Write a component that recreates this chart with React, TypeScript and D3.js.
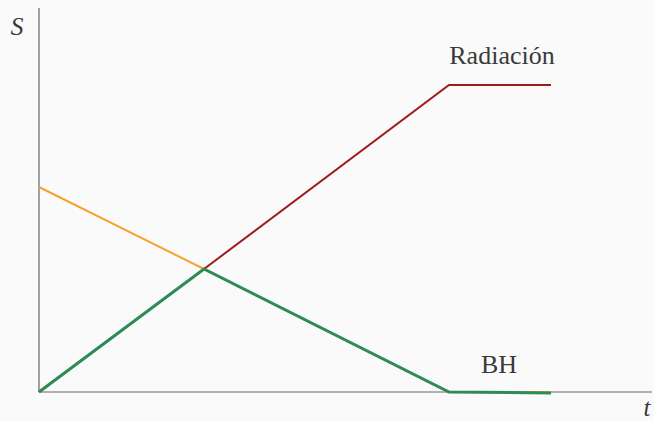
import React from "react";
import * as d3 from "d3";

const W = 654;
const H = 421;

// time points (arbitrary units) and entropy values
const tPoints = [0, 1.65, 4.1, 5.12];
const radiacion = [0, 1.23, 3.07, 3.07];
const bhOrange = [2.05, 1.23, 0, 0];
const total = [0, 1.23, 0, -0.01];

const labels = { y: "S", x: "t", rad: "Radiación", bh: "BH" };

export default function App() {
  const x = d3.scaleLinear().domain([0, 6.13]).range([39, 652]);
  const y = d3.scaleLinear().domain([0, 3.84]).range([392, 8]);
  const line = d3
    .line<number>()
    .x((_, i) => x(tPoints[i]))
    .y((d) => y(d));

  const font = "'Liberation Serif', 'DejaVu Serif', serif";
  return (
    <div style={{ position: "fixed", left: 0, top: 0 }}>
      <svg width={W} height={H} style={{ display: "block", background: "#fafafa" }}>
        <rect width={W} height={H} fill="#fafafa" />
        <line x1={x(0)} x2={x(0)} y1={y(3.84)} y2={y(0)} stroke="#666" strokeWidth={1.2} />
        <line x1={x(0)} x2={x(6.13)} y1={y(0)} y2={y(0)} stroke="#666" strokeWidth={1.2} />
        <path d={line(bhOrange) || ""} fill="none" stroke="#f7a233" strokeWidth={2} />
        <path d={line(radiacion) || ""} fill="none" stroke="#9e1b1b" strokeWidth={2} />
        <path d={line(total) || ""} fill="none" stroke="#2e8b57" strokeWidth={3} />
        <text x={17} y={35} fontFamily={font} fontStyle="italic" fontSize={26} fill="#3a3a3a" textAnchor="middle">
          {labels.y}
        </text>
        <text x={647} y={416} fontFamily={font} fontStyle="italic" fontSize={25} fill="#3a3a3a" textAnchor="middle">
          {labels.x}
        </text>
        <text x={502} y={64} fontFamily={font} fontSize={26} fill="#3a3a3a" textAnchor="middle">
          {labels.rad}
        </text>
        <text x={499} y={373} fontFamily={font} fontSize={26} fill="#3a3a3a" textAnchor="middle">
          {labels.bh}
        </text>
      </svg>
    </div>
  );
}
